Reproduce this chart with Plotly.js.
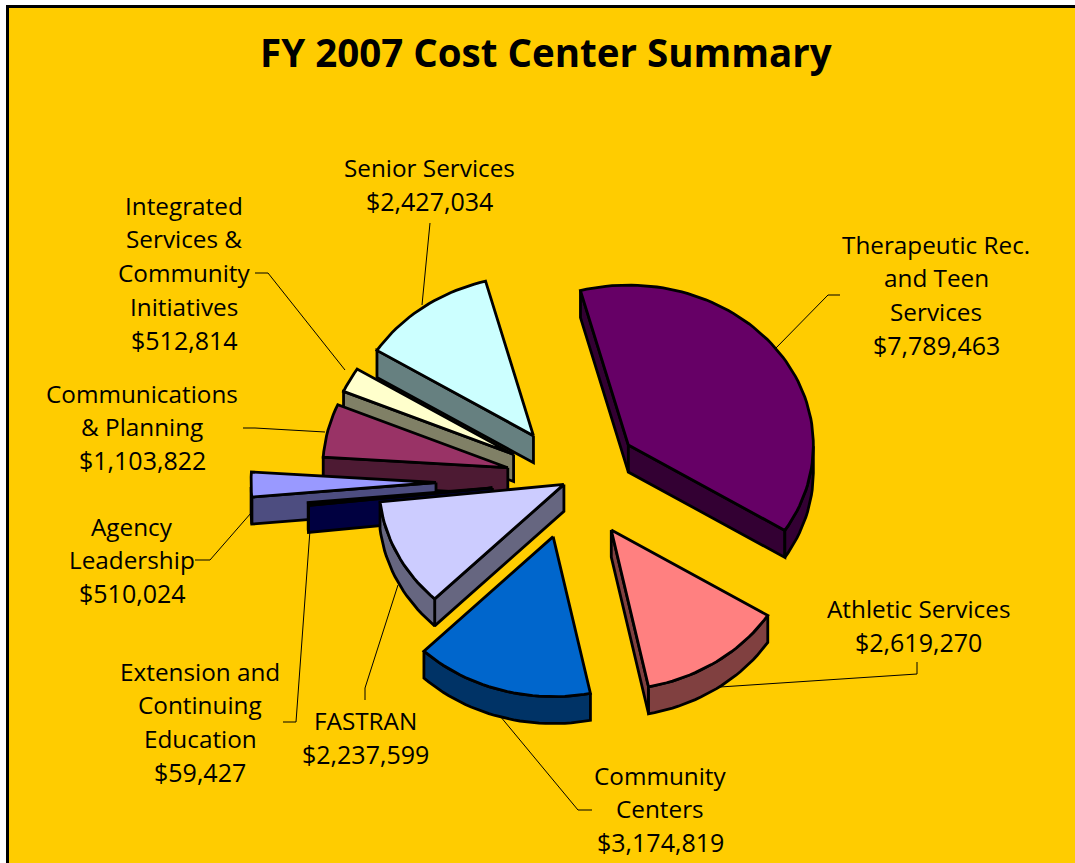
<!DOCTYPE html>
<html>
<head>
<meta charset="utf-8">
<script src="https://cdn.plot.ly/plotly-3.0.1.min.js"></script>
<style>html,body{margin:0;padding:0;background:#fff;overflow:hidden}#chart{width:1075px;height:863px}</style>
</head>
<body>
<div id="chart"></div>
<script>
// ---- data ----
var titleText = "FY 2007 Cost Center Summary";
var categories = ["Therapeutic Rec. and Teen Services","Athletic Services","Community Centers","FASTRAN","Extension and Continuing Education","Agency Leadership","Communications & Planning","Integrated Services & Community Initiatives","Senior Services"];
var values = [7789463,2619270,3174819,2237599,59427,510024,1103822,512814,2427034];
var labelLines = [["Therapeutic Rec.","and Teen","Services"],["Athletic Services"],["Community","Centers"],["FASTRAN"],["Extension and","Continuing","Education"],["Agency","Leadership"],["Communications","& Planning"],["Integrated","Services &","Community","Initiatives"],["Senior Services"]];
// ---- styling ----
var topColors  = ["#660066","#FF8080","#0066CC","#CCCCFF","#000080","#9999FF","#993366","#FFFFCC","#CCFFFF"];
var wallColors = ["#330033","#804040","#003366","#666680","#000040","#4D4D80","#4D1A33","#808066","#668080"];
var explode    = [70,69,67,9,80,136,66,66,65];
var drawOrder  = [8,7,6,5,4,3,0,1,2];
var labelX     = [936,918,660,365,200,132,142,184,429];
var labelY     = [244,608,775,720,671,526,393,205,167];
var leaders    = [[[775,349],[828,295],[840,295]],[[720,687],[917,674],[917,662]],[[500,716],[578,810],[592,810]],[[398,585],[365,688],[365,700]],[[310,530],[296,722],[283,722]],[[251,513],[210,560],[195,560]],[[325,432],[255,428],[243,428]],[[345,370],[268,273],[255,273]],[[422,305],[430,223]]];
var cx=572, cy=481, rx=185, ry=160, depth=27, startAngle=-15;
var labelFont="Open Sans", labelSize=24.3, valueSize=25, lineGap=33.7;

var total = values.reduce(function(a,b){return a+b;},0);
var rad = Math.PI/180;
function pt(a,o){return [o[0]+rx*Math.sin(a*rad), o[1]-ry*Math.cos(a*rad)];}
function poly(pts,fill,name){
  var c=pts.concat([pts[0]]);
  return {type:"scatter",mode:"lines",x:c.map(function(p){return p[0];}),y:c.map(function(p){return p[1];}),
    fill:"toself",fillcolor:fill,line:{color:"#000",width:2.8,shape:"linear"},name:name,hoverinfo:"name",showlegend:false};
}
function wall(seq,fill,name){
  var low=seq.map(function(p){return [p[0],p[1]+depth];}).reverse();
  return poly(seq.concat(low),fill,name);
}
var slices=[], acc=startAngle;
values.forEach(function(v,i){var s=v/total*360; slices.push({a0:acc,a1:acc+s}); acc+=s;});
var traces=[];
drawOrder.forEach(function(i){
  var s=slices[i], mid=(s.a0+s.a1)/2;
  // explosion follows the same ellipse as the slices
  var o=[cx+explode[i]*Math.sin(mid*rad), cy-explode[i]*(ry/rx)*Math.cos(mid*rad)];
  var arc=[], n=Math.max(2,Math.ceil((s.a1-s.a0)/2));
  for(var k=0;k<=n;k++){arc.push(pt(s.a0+(s.a1-s.a0)*k/n,o));}
  var pStart=arc[0], pEnd=arc[arc.length-1], name=categories[i];
  if(pStart[0]<o[0]) traces.push(wall([o,pStart],wallColors[i],name));
  if(o[0]<pEnd[0]) traces.push(wall([pEnd,o],wallColors[i],name));
  var front=arc.filter(function(p,k){
    var a=s.a0+(s.a1-s.a0)*k/n, b=((a%360)+360)%360; return b>=90&&b<=270;});
  if(front.length>1) traces.push(wall(front,wallColors[i],name));
  traces.push(poly([o].concat(arc),topColors[i],name));
});
var annotations=[{text:"<b>"+titleText+"</b>",x:546,y:52,xref:"x",yref:"y",showarrow:false,xanchor:"center",yanchor:"middle",font:{family:"Open Sans",size:38.5,color:"#000"}}];
categories.forEach(function(c,i){
  var lines=labelLines[i].concat(["$"+values[i].toLocaleString("en-US")]);
  lines.forEach(function(t,k){
    annotations.push({text:t,x:labelX[i],y:labelY[i]+k*lineGap,xref:"x",yref:"y",showarrow:false,xanchor:"center",yanchor:"middle",
      font:{family:labelFont,size:k===lines.length-1?valueSize:labelSize,color:"#000"}});
  });
});
var shapes=leaders.map(function(l){
  return {type:"path",xref:"x",yref:"y",path:l.map(function(p,k){return (k?"L":"M")+p[0]+" "+p[1];}).join(" "),line:{color:"#000",width:1},layer:"below"};
});
var axisBase={showgrid:false,zeroline:false,showticklabels:false,ticks:"",showline:true,linecolor:"#000",linewidth:3,fixedrange:true};
var layout={width:1075,height:863,margin:{l:9,t:8,r:0,b:0,pad:0},paper_bgcolor:"#fff",plot_bgcolor:"#FFCC00",showlegend:false,
  xaxis:Object.assign({},axisBase,{range:[9,1075],side:"top"}),
  yaxis:Object.assign({},axisBase,{range:[863,8],side:"left"}),
  annotations:annotations,shapes:shapes};
Plotly.newPlot("chart",traces,layout,{displayModeBar:false,staticPlot:true});
</script>
</body>
</html>
